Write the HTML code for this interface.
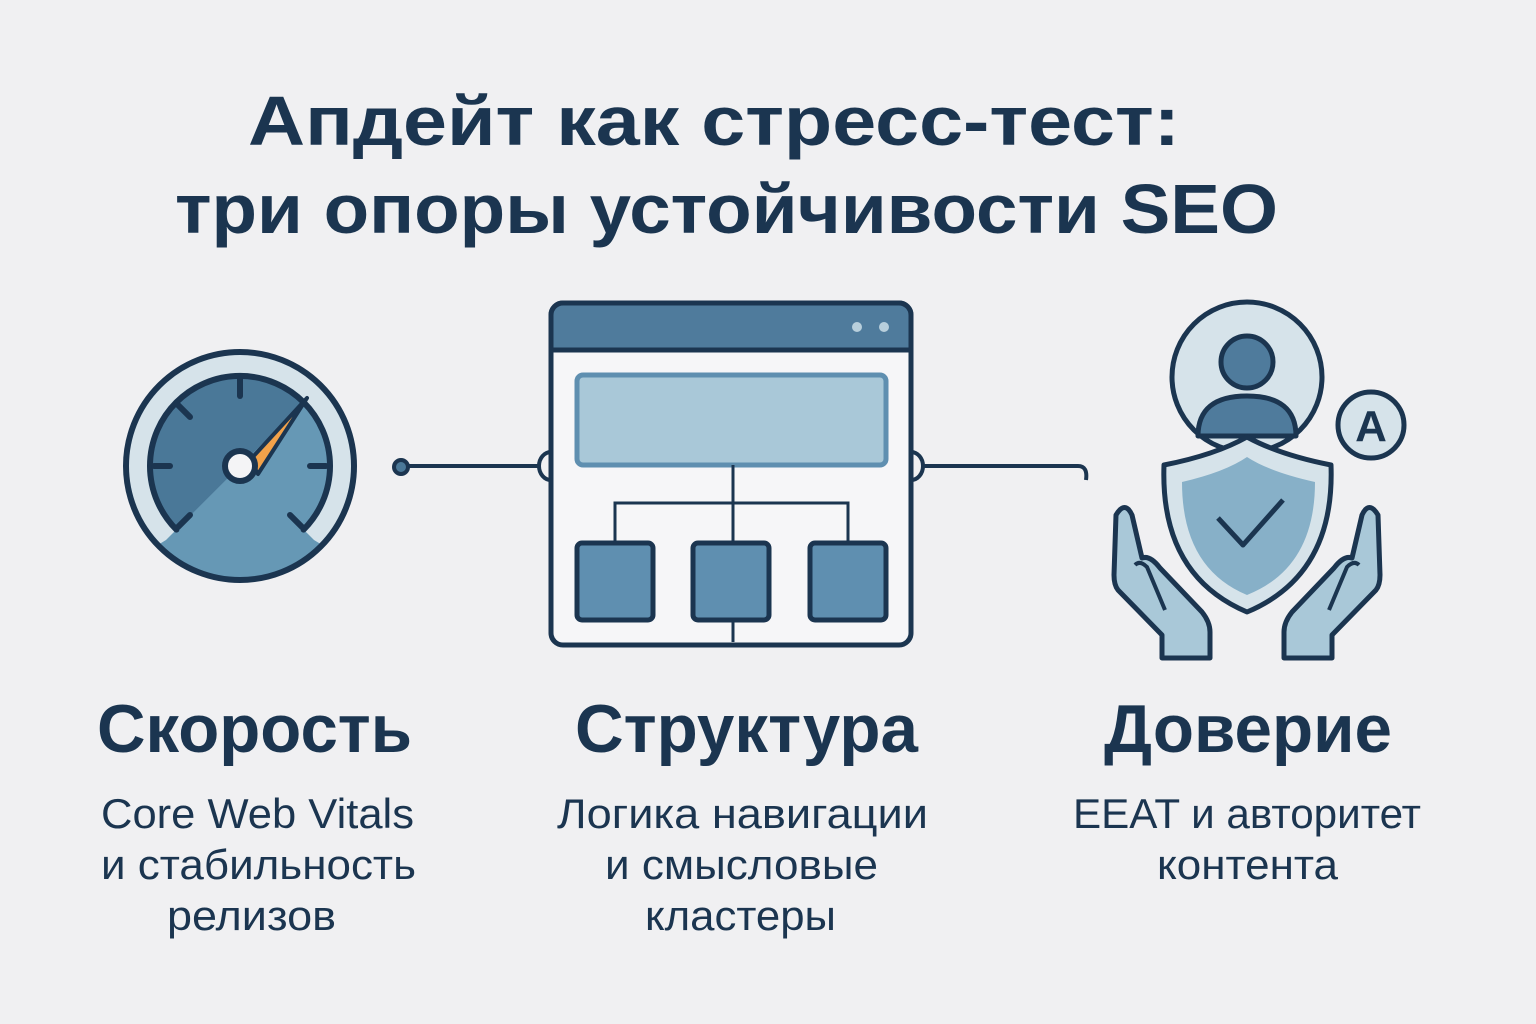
<!DOCTYPE html>
<html><head><meta charset="utf-8"><style>
html,body{margin:0;padding:0;background:#f0f0f2;}
svg{display:block;}
text{font-family:"Liberation Sans",sans-serif;fill:#1b3550;}
</style></head><body>
<svg width="1536" height="1024" viewBox="0 0 1536 1024" xmlns="http://www.w3.org/2000/svg">
<defs>
<clipPath id="dial"><circle cx="240" cy="466" r="90"/></clipPath>
<clipPath id="outer"><circle cx="240" cy="466" r="114"/></clipPath>
</defs>
<rect width="1536" height="1024" fill="#f0f0f2"/>
<text x="248" y="145" font-size="70" font-weight="bold" textLength="932" lengthAdjust="spacingAndGlyphs">Апдейт как стресс-тест:</text>
<text x="175" y="233" font-size="70" font-weight="bold" textLength="1103" lengthAdjust="spacingAndGlyphs">три опоры устойчивости SEO</text>

<!-- gauge -->
<circle cx="240" cy="466" r="114" fill="#d6e3ea"/>
<circle cx="240" cy="466" r="90" fill="#4a7898"/>
<polygon points="240,466 420,286 420,700 60,646" fill="#6698b5" clip-path="url(#dial)"/>
<polygon points="240,466 166,540 100,580 100,620 380,620 380,580 314,540" fill="#6698b5" clip-path="url(#outer)"/>
<g stroke="#1b3550" stroke-width="6" stroke-linecap="round" fill="none">
<circle cx="240" cy="466" r="114"/>
<path d="M176.4 529.6 A90 90 0 1 1 303.6 529.6"/>
<line x1="240" y1="379" x2="240" y2="396"/>
<line x1="178" y1="405" x2="190" y2="417"/>
<line x1="154" y1="466" x2="170" y2="466"/>
<line x1="310" y1="466" x2="326" y2="466"/>
<line x1="178" y1="527" x2="190" y2="515"/>
<line x1="302" y1="527" x2="290" y2="515"/>
<path d="M250 460 L307 398 L258 474 Z" fill="#f2a24a" stroke-width="4" stroke-linejoin="round"/>
<circle cx="240" cy="466" r="15" fill="#f4f4f6"/>
</g>

<!-- connectors -->
<g stroke="#1b3550" stroke-width="4" fill="none">
<circle cx="401" cy="467" r="7" fill="#4a7898"/>
<line x1="408" y1="466" x2="540" y2="466"/>
<path d="M551 452 A12 14 0 0 0 551 480" fill="#f0f0f2"/>
<path d="M911 452 A12 14 0 0 1 911 480" fill="#f0f0f2"/>
<path d="M923 466 L1078 466 Q1088 466 1086 480"/>
</g>

<!-- window -->
<g stroke="#1b3550" stroke-width="5">
<rect x="551" y="303" width="360" height="342" rx="12" fill="#f6f6f8"/>
<path d="M563 303 H899 A12 12 0 0 1 911 315 V350 H551 V315 A12 12 0 0 1 563 303 Z" fill="#4f7b9c"/>
<rect x="577" y="375" width="309" height="90" rx="6" fill="#a9c8d8" stroke="#5f8fb0"/>
<path d="M733 465 V642 M615 543 V503 H848 V543" fill="none" stroke-width="3"/>
<rect x="577" y="543" width="76" height="77" rx="5" fill="#5f8fb0"/>
<rect x="693" y="543" width="76" height="77" rx="5" fill="#5f8fb0"/>
<rect x="810" y="543" width="76" height="77" rx="5" fill="#5f8fb0"/>
</g>
<circle cx="857" cy="327" r="5" fill="#b8cfdc"/>
<circle cx="884" cy="327" r="5" fill="#b8cfdc"/>

<!-- trust -->
<g stroke="#1b3550" stroke-width="5" stroke-linejoin="round">
<circle cx="1247" cy="377" r="75" fill="#d6e3ea"/>
<circle cx="1247" cy="362" r="26" fill="#4f7b9c"/>
<path d="M1198 436 Q1198 396 1247 396 Q1296 396 1296 436 Z" fill="#4f7b9c"/>
<circle cx="1371" cy="425" r="33" fill="#d6e3ea"/>
<path d="M1164 465 Q1215 455 1247 437 Q1280 455 1331 465 Q1335 575 1247 612 Q1160 575 1164 465 Z" fill="#d6e3ea"/>
<path d="M1182 482 Q1225 472 1247 457 Q1270 472 1315 482 Q1315 568 1247 595 Q1182 568 1182 482 Z" fill="#87b0c8" stroke="none"/>
<path d="M1218 518 L1243 545 L1283 500" fill="none"/>
<path d="M1116 515 Q1125 500 1132 515 L1142 558 Q1150 555 1160 568 L1202 612 Q1210 622 1210 632 V658 H1162 V635 L1118 590 Q1114 585 1114 575 Z" fill="#a9c8d8"/>
<path d="M1135 565 Q1140 560 1147 567 L1165 610" fill="none" stroke-width="4"/>
<path d="M1378 515 Q1369 500 1362 515 L1352 558 Q1344 555 1334 568 L1292 612 Q1284 622 1284 632 V658 H1332 V635 L1376 590 Q1380 585 1380 575 Z" fill="#a9c8d8"/>
<path d="M1359 565 Q1354 560 1347 567 L1329 610" fill="none" stroke-width="4"/>
</g>
<text x="1371" y="441" font-size="44" font-weight="bold" text-anchor="middle" fill="#1b3550">A</text>

<!-- labels -->
<g font-size="68" font-weight="bold">
<text x="97" y="752" textLength="315" lengthAdjust="spacingAndGlyphs">Скорость</text>
<text x="575" y="752" textLength="343" lengthAdjust="spacingAndGlyphs">Структура</text>
<text x="1104" y="752" textLength="288" lengthAdjust="spacingAndGlyphs">Доверие</text>
</g>
<g font-size="42">
<text x="101" y="828" textLength="313" lengthAdjust="spacingAndGlyphs">Core Web Vitals</text>
<text x="101" y="879" textLength="315" lengthAdjust="spacingAndGlyphs">и стабильность</text>
<text x="167" y="930" textLength="169" lengthAdjust="spacingAndGlyphs">релизов</text>
<text x="557" y="828" textLength="371" lengthAdjust="spacingAndGlyphs">Логика навигации</text>
<text x="605" y="879" textLength="273" lengthAdjust="spacingAndGlyphs">и смысловые</text>
<text x="645" y="930" textLength="191" lengthAdjust="spacingAndGlyphs">кластеры</text>
<text x="1073" y="828" textLength="348" lengthAdjust="spacingAndGlyphs">EEAT и авторитет</text>
<text x="1157" y="879" textLength="181" lengthAdjust="spacingAndGlyphs">контента</text>
</g>
</svg>
</body></html>
